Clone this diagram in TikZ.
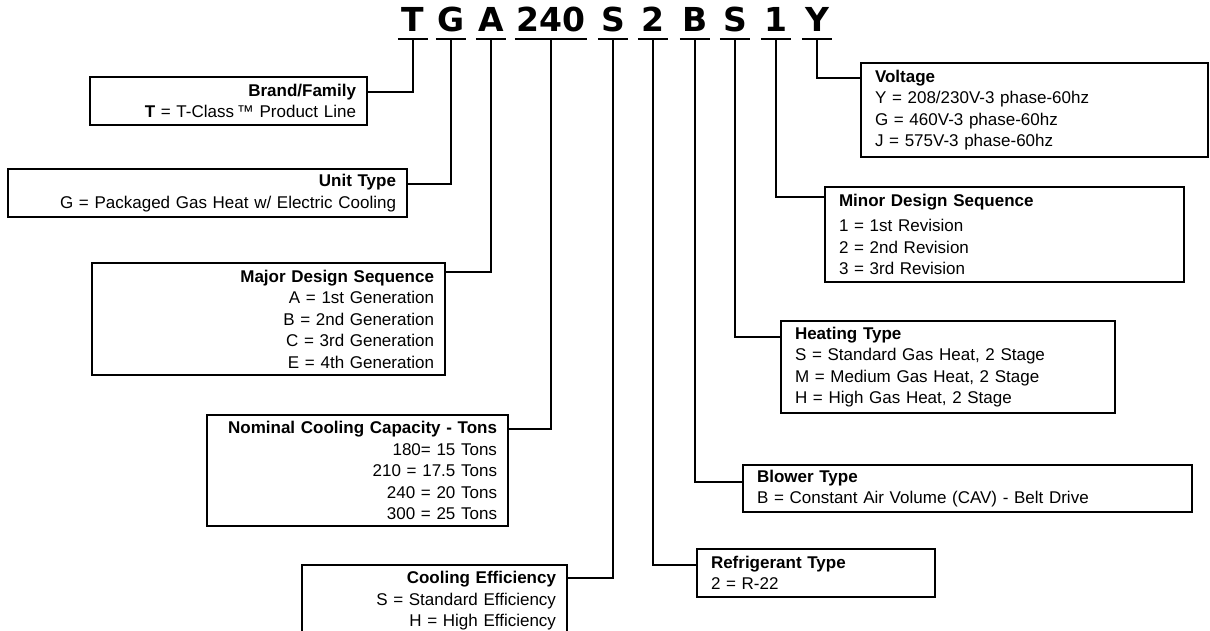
\documentclass[tikz,border=0pt]{standalone}
\usepackage{fontspec}
\setmainfont{Liberation Sans}
\newfontfamily\codefont{DejaVu Sans}
\usetikzlibrary{positioning}
\tikzset{
  keybox/.style={
    draw, line width=1.6pt, inner ysep=3pt, outer sep=0pt,
    font=\fontsize{17pt}{21.5pt}\selectfont
  },
  leftkey/.style={keybox, inner xsep=11pt, align=right, anchor=north west},
  rightkey/.style={keybox, inner xsep=14pt, align=left, anchor=north west},
  codeltr/.style={
    font=\codefont\bfseries\fontsize{33pt}{33pt}\selectfont,
    inner xsep=0pt, inner ysep=7pt, text depth=0pt, minimum width=30pt, anchor=base
  },
  uline/.style={line width=1.8pt},
  link/.style={line width=1.6pt}
}

\begin{document}
\begin{tikzpicture}[x=1pt, y=-1pt]
  \clip (0,0) rectangle (1210,631);
  \useasboundingbox (0,0) rectangle (1210,631);

  % model number
  \node[codeltr] (cT) at (413,32) {T};
  \node[codeltr] (cG) at (451,32) {G};
  \node[codeltr] (cA) at (491,32) {A};
  \node[codeltr, minimum width=72pt] (cCap) at (551,32) {240};
  \node[codeltr] (cEff) at (613,32) {S};
  \node[codeltr] (cRef) at (653,32) {2};
  \node[codeltr] (cBlw) at (695,32) {B};
  \node[codeltr] (cHeat) at (735,32) {S};
  \node[codeltr] (cMin) at (776,32) {1};
  \node[codeltr] (cVolt) at (817,32) {Y};
  \foreach \c in {cT,cG,cA,cCap,cEff,cRef,cBlw,cHeat,cMin,cVolt}
    \draw[uline] (\c.south west) -- (\c.south east);

  % left side
  \node[leftkey, text width=255pt, minimum height=48pt] (bBrand) at (90,77)
    {\textbf{Brand/Family}\\ \textbf{T} = T-Class\,™ Product Line};
  \node[leftkey, text width=377pt, minimum height=48pt] (bUnit) at (8,169)
    {\textbf{Unit Type}\\ G = Packaged Gas Heat w/ Electric Cooling};
  \node[leftkey, text width=331pt, minimum height=112pt] (bMajor) at (92,263)
    {\textbf{Major Design Sequence}\\ A = 1st Generation\\ B = 2nd Generation\\ C = 3rd Generation\\ E = 4th Generation};
  \node[leftkey, text width=279pt, minimum height=111pt] (bCap) at (207,415)
    {\textbf{Nominal Cooling Capacity - Tons}\\ 180= 15 Tons\\ 210 = 17.5 Tons\\ 240 = 20 Tons\\ 300 = 25 Tons};
  \node[leftkey, text width=243pt, minimum height=72pt] (bEff) at (302,565)
    {\textbf{Cooling Efficiency}\\ S = Standard Efficiency\\ H = High Efficiency};

  % right side
  \node[rightkey, text width=319pt, minimum height=94pt] (bVolt) at (861,63)
    {\textbf{Voltage}\\ Y = 208/230V-3 phase-60hz\\ G = 460V-3 phase-60hz\\ J = 575V-3 phase-60hz};
  \node[rightkey, text width=331pt, minimum height=95pt] (bMin) at (825,187)
    {\textbf{Minor Design Sequence}\\[4pt] 1 = 1st Revision\\ 2 = 2nd Revision\\ 3 = 3rd Revision};
  \node[rightkey, text width=306pt, minimum height=92pt] (bHeat) at (781,321)
    {\textbf{Heating Type}\\ S = Standard Gas Heat, 2 Stage\\ M = Medium Gas Heat, 2 Stage\\ H = High Gas Heat, 2 Stage};
  \node[rightkey, text width=421pt, minimum height=47pt] (bBlw) at (743,465)
    {\textbf{Blower Type}\\ B = Constant Air Volume (CAV) - Belt Drive};
  \node[rightkey, text width=210pt, minimum height=48pt] (bRef) at (697,549)
    {\textbf{Refrigerant Type}\\ 2 = R-22};

  % connectors
  \draw[link] (cT.south) |- ([yshift=-15pt]bBrand.north east);
  \draw[link] (cG.south) |- ([yshift=-15pt]bUnit.north east);
  \draw[link] (cA.south) |- ([yshift=-9pt]bMajor.north east);
  \draw[link] (cCap.south) |- ([yshift=-14pt]bCap.north east);
  \draw[link] (cEff.south) |- ([yshift=-13pt]bEff.north east);
  \draw[link] (cRef.south) |- ([yshift=-16pt]bRef.north west);
  \draw[link] (cBlw.south) |- ([yshift=-17pt]bBlw.north west);
  \draw[link] (cHeat.south) |- ([yshift=-16pt]bHeat.north west);
  \draw[link] (cMin.south) |- ([yshift=-10pt]bMin.north west);
  \draw[link] (cVolt.south) |- ([yshift=-15pt]bVolt.north west);
\end{tikzpicture}
\end{document}
